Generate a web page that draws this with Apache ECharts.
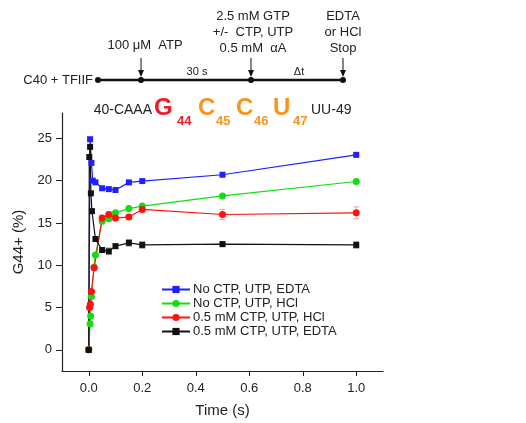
<!DOCTYPE html>
<html>
<head>
<meta charset="utf-8">
<title>G44+ time course</title>
<script src="https://cdn.jsdelivr.net/npm/echarts@6/dist/echarts.min.js"></script>
<style>
  html, body { margin: 0; padding: 0; background: #fff; }
  #chart { width: 526px; height: 423px; }
</style>
</head>
<body>
<div id="chart"></div>
<script>
// data
var seriesNames = ['No CTP, UTP, EDTA', 'No CTP, UTP, HCl', '0.5 mM CTP, UTP, HCl', '0.5 mM CTP, UTP, EDTA'];

var blueTime = [0, 0.005, 0.01, 0.015, 0.025, 0.05, 0.075, 0.1, 0.15, 0.2, 0.5, 1.0];
var blueVal  = [0, 24.9, 22.1, 20.0, 19.8, 19.1, 19.0, 18.9, 19.8, 19.95, 20.7, 23.05];

var greenTime = [0, 0.005, 0.007, 0.01, 0.02, 0.025, 0.05, 0.075, 0.1, 0.15, 0.2, 0.5, 1.0];
var greenVal  = [0, 3.1, 4.0, 6.3, 9.8, 11.2, 15.2, 15.5, 16.2, 16.7, 17.0, 18.2, 19.9];

var redTime = [0, 0.003, 0.006, 0.01, 0.02, 0.05, 0.075, 0.1, 0.15, 0.2, 0.5, 1.0];
var redVal  = [0, 5.0, 5.4, 6.9, 9.7, 15.6, 16.0, 15.6, 15.7, 16.6, 16.0, 16.2];
var redErr  = [0, 0, 0, 0, 0, 0.3, 0.3, 0.3, 0.3, 0.3, 0.6, 0.7];

var blackTime = [0, 0.002, 0.005, 0.008, 0.012, 0.025, 0.05, 0.075, 0.1, 0.15, 0.2, 0.5, 1.0];
var blackVal  = [0, 22.8, 24.0, 18.5, 16.4, 13.1, 11.8, 11.65, 12.26, 12.65, 12.4, 12.5, 12.4];
var blackErr  = [0, 0, 0, 0, 0, 0, 0.3, 0.4, 0.3, 0.4, 0.4, 0.3, 0.4];

var xTicks = [0, 0.2, 0.4, 0.6, 0.8, 1.0];
var yTicks = [0, 5, 10, 15, 20, 25];

var FONT = 'Liberation Sans, Arial, sans-serif';

function pairs(t, v) {
    return t.map(function (x, i) { return [x, v[i]]; });
}
function errPairs(t, v, e) {
    return t.map(function (x, i) { return [x, v[i], e[i]]; });
}

function lineSeries(name, data, color, symbol, size) {
    return {
        name: name,
        type: 'line',
        data: data,
        symbol: symbol,
        symbolSize: size,
        color: color,
        lineStyle: { width: 1.2, color: color },
        itemStyle: { color: color },
        z: 3
    };
}

function errSeries(data, color) {
    return {
        type: 'custom',
        silent: true,
        z: 2,
        data: data,
        renderItem: function (params, api) {
            var e = api.value(2);
            if (!e) return;
            var lo = api.coord([api.value(0), api.value(1) - e]);
            var hi = api.coord([api.value(0), api.value(1) + e]);
            var st = { stroke: color, lineWidth: 1 };
            return {
                type: 'group',
                children: [
                    { type: 'line', shape: { x1: lo[0], y1: lo[1], x2: hi[0], y2: hi[1] }, style: st },
                    { type: 'line', shape: { x1: lo[0] - 3, y1: lo[1], x2: lo[0] + 3, y2: lo[1] }, style: st },
                    { type: 'line', shape: { x1: hi[0] - 3, y1: hi[1], x2: hi[0] + 3, y2: hi[1] }, style: st }
                ]
            };
        }
    };
}

// top scheme: time line, arrows and sequence
function label(x, y, s, font, fill, align) {
    return {
        type: 'text', x: x, y: y,
        style: { text: s, font: font || ('13px ' + FONT), fill: fill || '#222', align: align || 'center', verticalAlign: 'middle' }
    };
}
var arrow = function (x) {
    return [
        { type: 'line', shape: { x1: x, y1: 58, x2: x, y2: 75 }, style: { stroke: '#111', lineWidth: 1 } },
        { type: 'polygon', shape: { points: [[x - 3, 70], [x + 3, 70], [x, 77]] }, style: { fill: '#111' } }
    ];
};
var dot = function (x) {
    return { type: 'circle', shape: { cx: x, cy: 80, r: 3 }, style: { fill: '#111' } };
};

var big = 'bold 24px ' + FONT, sub = 'bold 13px ' + FONT, seq = '14px ' + FONT;
var red = '#ee1c24', orange = '#f7941d';

var graphics = [
    { type: 'line', shape: { x1: 98, y1: 80, x2: 343, y2: 80 }, style: { stroke: '#111', lineWidth: 2.5 } },
    dot(98), dot(141), dot(251), dot(343)
].concat(arrow(141), arrow(251), arrow(343), [
    label(93, 80, 'C40 + TFIIF', null, null, 'right'),
    label(145, 45, '100 \u03bcM  ATP'),
    label(197, 72, '30 s', '11px ' + FONT),
    label(299, 72, '\u0394t', '11px ' + FONT),
    label(253, 16, '2.5 mM GTP'),
    label(253, 32, '+/-  CTP, UTP'),
    label(253, 48, '0.5 mM  \u03b1A'),
    label(343, 16, 'EDTA'),
    label(343, 32, 'or HCl'),
    label(343, 48, 'Stop'),
    label(152, 110, '40-CAAA', seq, null, 'right'),
    label(154, 108, 'G', big, red, 'left'),
    label(177, 121, '44', sub, red, 'left'),
    label(198, 108, 'C', big, orange, 'left'),
    label(216, 121, '45', sub, orange, 'left'),
    label(236, 108, 'C', big, orange, 'left'),
    label(254, 121, '46', sub, orange, 'left'),
    label(273, 108, 'U', big, orange, 'left'),
    label(293, 121, '47', sub, orange, 'left'),
    label(311, 110, 'UU-49', seq, null, 'left')
]);

var myChart = echarts.init(document.getElementById('chart'));

var option = {
    animation: false,
    backgroundColor: '#fff',
    textStyle: { fontFamily: FONT },
    grid: { left: 62, top: 113, width: 321, height: 261 },
    legend: {
        left: 156,
        top: 278,
        orient: 'vertical',
        data: seriesNames,
        itemWidth: 28,
        itemHeight: 9,
        itemGap: 1,
        textStyle: { fontSize: 13, color: '#222', fontFamily: FONT, padding: [0, 0, 0, -2] }
    },
    xAxis: {
        type: 'value',
        min: -0.1,
        max: 1.1,
        name: 'Time (s)',
        nameLocation: 'middle',
        nameGap: 32,
        nameTextStyle: { fontSize: 15, color: '#222' },
        splitLine: { show: false },
        axisLine: { onZero: false, lineStyle: { color: '#222', width: 1.2 } },
        axisTick: { length: 5, lineStyle: { color: '#222' }, customValues: xTicks },
        axisLabel: {
            fontSize: 13, color: '#222', margin: 11, customValues: xTicks,
            formatter: function (v) { return v.toFixed(1); }
        }
    },
    yAxis: {
        type: 'value',
        min: -2.5,
        max: 28,
        name: 'G44+ (%)',
        nameLocation: 'middle',
        nameGap: 34,
        nameTextStyle: { fontSize: 15, color: '#222' },
        splitLine: { show: false },
        axisLine: { onZero: false, lineStyle: { color: '#222', width: 1.2 } },
        axisTick: { length: 6, lineStyle: { color: '#222' }, customValues: yTicks },
        axisLabel: { fontSize: 13, color: '#222', margin: 10, customValues: yTicks }
    },
    graphic: graphics,
    series: [
        errSeries(errPairs(redTime, redVal, redErr), '#f4a0a0'),
        errSeries(errPairs(blackTime, blackVal, blackErr), '#aaaaaa'),
        lineSeries(seriesNames[0], pairs(blueTime, blueVal), '#1f1fff', 'rect', 6),
        lineSeries(seriesNames[1], pairs(greenTime, greenVal), '#11dd11', 'circle', 7),
        lineSeries(seriesNames[2], pairs(redTime, redVal), '#ff1111', 'circle', 7),
        lineSeries(seriesNames[3], pairs(blackTime, blackVal), '#111111', 'rect', 6)
    ]
};

myChart.setOption(option);
</script>
</body>
</html>
